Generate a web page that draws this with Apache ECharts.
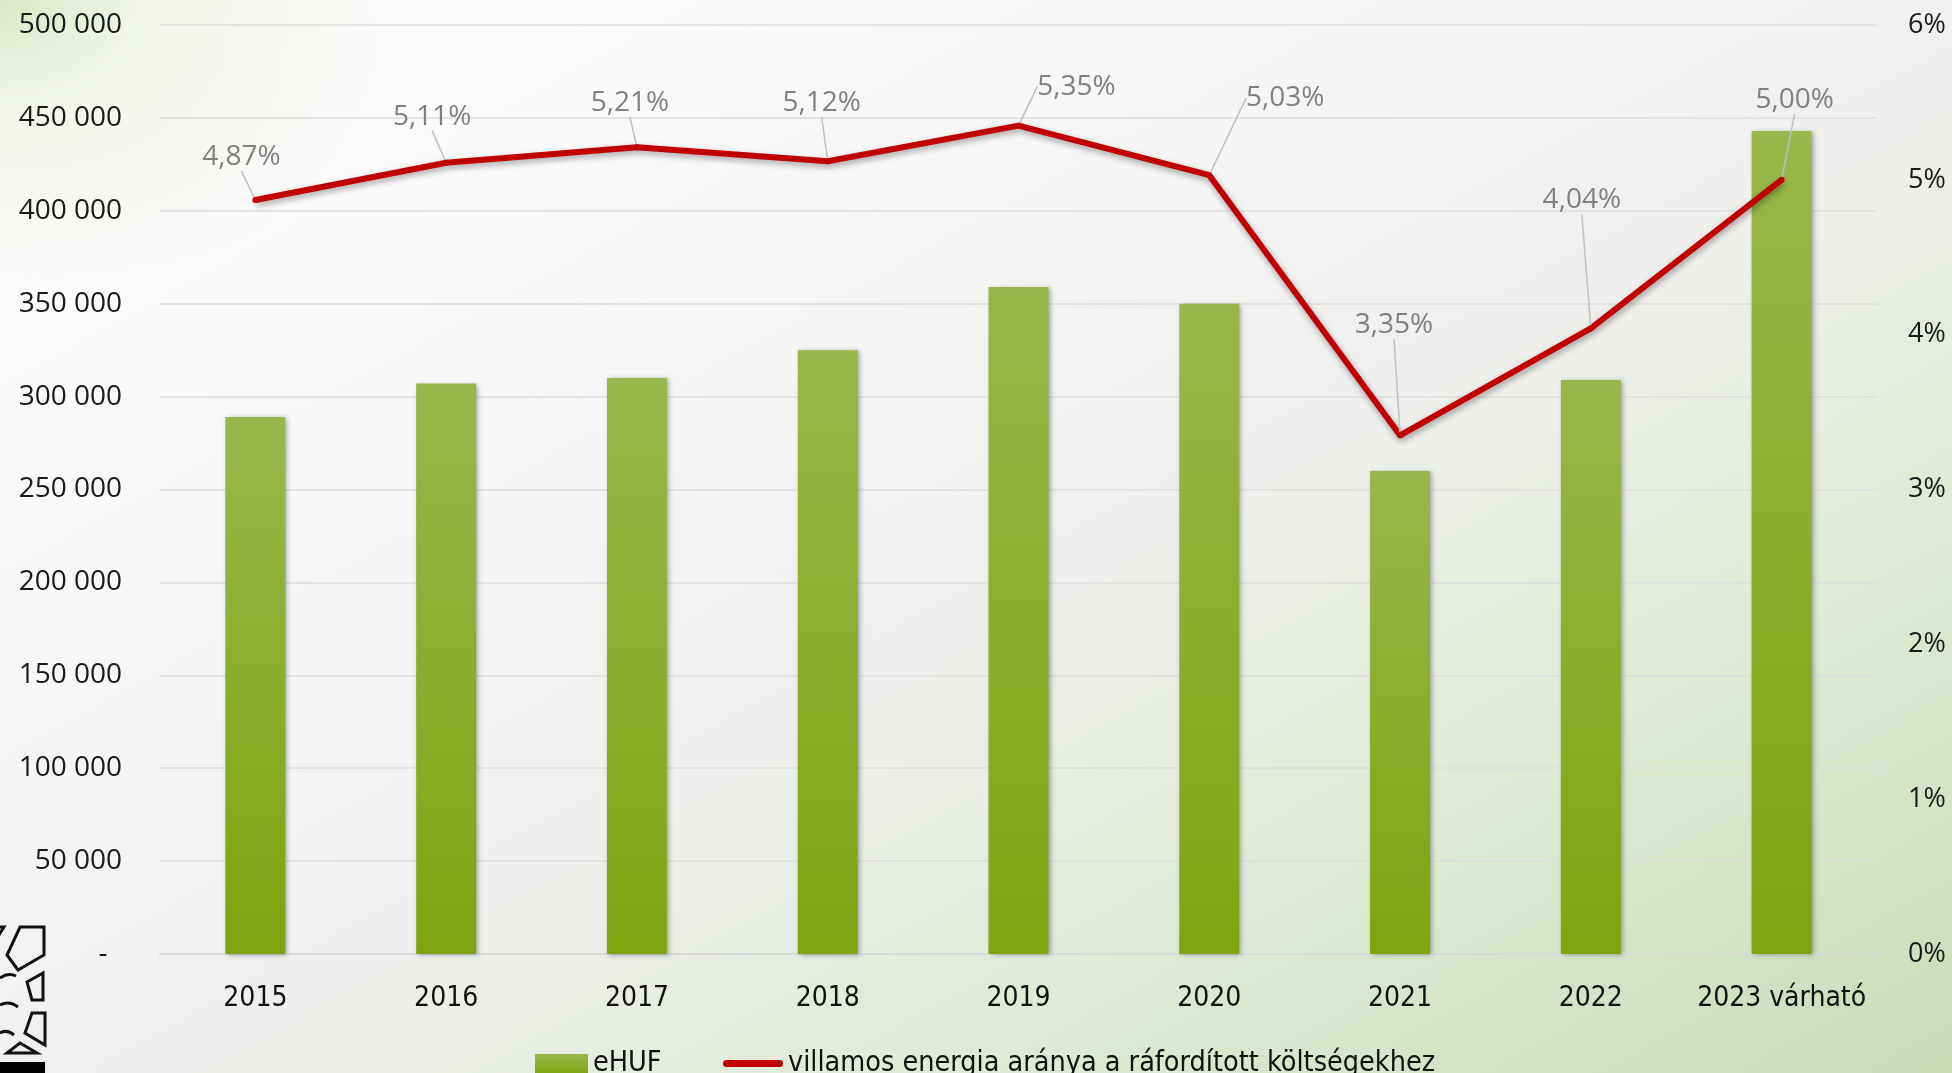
<!DOCTYPE html>
<html>
<head>
<meta charset="utf-8">
<script src="https://cdn.jsdelivr.net/npm/echarts@6/dist/echarts.min.js"></script>
<style>
html,body{margin:0;padding:0;width:1952px;height:1073px;overflow:hidden;}
body{
  background:
    radial-gradient(ellipse 420px 300px at 0% 0%, rgba(220,232,196,1) 0%, rgba(236,242,226,0.7) 35%, rgba(255,255,255,0) 100%),
    linear-gradient(to bottom right, #ffffff 0%, #f6f6f6 35%, #eeefec 55%, #dfe9d4 75%, #cbdcb7 100%);
}
#chart{width:1952px;height:1073px;}
</style>
</head>
<body>
<div id="chart"></div>
<script>
const categories = ['2015','2016','2017','2018','2019','2020','2021','2022','2023 várható'];
const ehufValues = [289000, 307000, 310000, 325000, 359000, 350000, 260000, 309000, 443000];
const ratioValues = [4.87, 5.11, 5.21, 5.12, 5.35, 5.03, 3.35, 4.04, 5.00];
const leftTicks = { min: 0, max: 500000, interval: 50000 };
const rightTicks = { min: 0, max: 6, interval: 1 };
const seriesNames = ['eHUF', 'villamos energia aránya a ráfordított költségekhez'];

// label placement (layout only): offset of label centre from its point
const labelShift = [[-14,-43],[-14,-46],[-7,-44],[-6,-58],[58,-39],[76,-77],[-6,-110],[-9,-128],[13,-80]];

const wideFont = '"Open Sans", "Noto Sans", sans-serif';
const narrowFont = '"Liberation Sans Narrow", "DejaVu Sans Condensed", "Roboto", sans-serif';

function fmtThousands(v){
  if (v === 0) return '-  ';
  return String(v).replace(/\B(?=(\d{3})+(?!\d))/g, ' ');
}

// decorative logo fragment (bottom-left corner)
const logoStyle = { fill: 'none', stroke: '#111', lineWidth: 3, lineJoin: 'miter' };
const logo = [
  { type: 'polygon', shape: { points: [[20,927],[44,927],[44,955],[18,970],[7,955]] }, style: logoStyle },
  { type: 'polygon', shape: { points: [[-3,927],[4,927],[-3,938]] }, style: logoStyle },
  { type: 'polygon', shape: { points: [[43,973],[43,1000],[32,1000],[27,982]] }, style: logoStyle },
  { type: 'polygon', shape: { points: [[32,1013],[45,1013],[45,1045],[25,1033]] }, style: logoStyle },
  { type: 'polygon', shape: { points: [[20,1043],[37,1053],[7,1053]] }, style: logoStyle },
  { type: 'bezierCurve', shape: { x1: 0, y1: 978, cpx1: 8, cpy1: 972, x2: 16, y2: 976 }, style: logoStyle },
  { type: 'bezierCurve', shape: { x1: 0, y1: 1005, cpx1: 9, cpy1: 1000, x2: 18, y2: 1007 }, style: logoStyle },
  { type: 'bezierCurve', shape: { x1: 0, y1: 1033, cpx1: 7, cpy1: 1029, x2: 14, y2: 1035 }, style: logoStyle },
  { type: 'rect', shape: { x: 0, y: 1062, width: 45, height: 11 }, style: { fill: '#000' } }
];

const chart = echarts.init(document.getElementById('chart'), null, {renderer:'canvas'});
chart.setOption({
  backgroundColor: 'transparent',
  animation: false,
  graphic: logo,
  grid: { left: 160, right: 75, top: 25, bottom: 119, containLabel: false },
  legend: [
    {
      left: 530, top: 1044,
      itemWidth: 53, itemHeight: 19,
      textStyle: { fontFamily: narrowFont, fontSize: 28.5, color: '#111' },
      data: [{ name: seriesNames[0], icon: 'rect' }]
    },
    {
      left: 718, top: 1044,
      itemWidth: 60, itemHeight: 19,
      textStyle: { fontFamily: narrowFont, fontSize: 28.5, color: '#111' },
      data: [{ name: seriesNames[1], icon: 'path://M3.5,0 h53 a3.5,3.5 0 0 1 0,7 h-53 a3.5,3.5 0 0 1 0,-7 z' }]
    }
  ],
  xAxis: {
    type: 'category',
    data: categories,
    axisLine: { lineStyle: { color: '#d9d9d9', width: 2 } },
    axisTick: { show: false },
    axisLabel: { interval: 0, fontFamily: narrowFont, fontSize: 28, color: '#111', margin: 31 }
  },
  yAxis: [
    {
      type: 'value', min: leftTicks.min, max: leftTicks.max, interval: leftTicks.interval,
      axisLine: { show: false }, axisTick: { show: false },
      splitLine: { lineStyle: { color: '#dcdcdc', width: 1.5 } },
      axisLabel: { fontFamily: wideFont, fontSize: 28, color: '#1a1a1a', margin: 38, formatter: fmtThousands }
    },
    {
      type: 'value', min: rightTicks.min, max: rightTicks.max, interval: rightTicks.interval,
      position: 'right',
      axisLine: { show: false }, axisTick: { show: false }, splitLine: { show: false },
      axisLabel: { fontFamily: wideFont, fontSize: 27, color: '#1a1a1a', margin: 31, formatter: '{value}%' }
    }
  ],
  series: [
    {
      name: seriesNames[0],
      type: 'bar',
      data: ehufValues,
      barWidth: 60,
      itemStyle: {
        color: new echarts.graphic.LinearGradient(0,0,0,1,[
          {offset:0, color:'#98b74c'},{offset:1, color:'#7fa40f'}
        ]),
        shadowBlur: 5, shadowColor: 'rgba(0,0,0,0.35)', shadowOffsetX: 2, shadowOffsetY: 1
      }
    },
    {
      name: seriesNames[1],
      type: 'line',
      yAxisIndex: 1,
      data: ratioValues,
      symbol: 'circle', symbolSize: 6,
      itemStyle: { color: '#c00000' },
      lineStyle: { color: '#c00000', width: 6, shadowBlur: 6, shadowColor: 'rgba(0,0,0,0.35)', shadowOffsetY: 3, shadowOffsetX: 1 },
      label: {
        show: true, position: 'top',
        fontFamily: wideFont, fontSize: 28, color: '#808080',
        formatter: p => p.value.toFixed(2).replace('.', ',') + '%'
      },
      labelLine: { show: true, lineStyle: { color: '#bfbfbf', width: 1.5 } },
      labelLayout: function (p) {
        const o = labelShift[p.dataIndex];
        return {
          x: p.rect.x + p.rect.width / 2 + o[0],
          y: p.rect.y + p.rect.height / 2 + o[1],
          align: 'center', verticalAlign: 'middle'
        };
      }
    }
  ]
});
</script>
</body>
</html>
